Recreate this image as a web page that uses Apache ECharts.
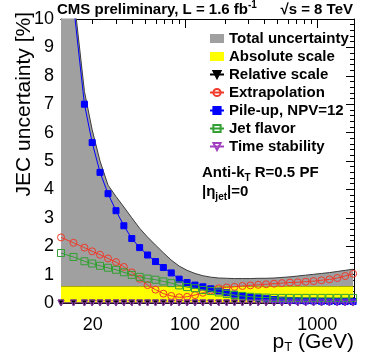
<!DOCTYPE html>
<html>
<head>
<meta charset="utf-8">
<title>JEC uncertainty</title>
<script src="https://cdn.jsdelivr.net/npm/echarts@6/dist/echarts.min.js"></script>
<style>
html, body { margin: 0; padding: 0; background: #fff; }
#chart { width: 374px; height: 359px; }
</style>
</head>
<body>
<div id="chart"></div>
<script>
'use strict';

// pT bin centres, GeV
var pt_bins = [11.5, 14.3, 17.3, 19.8, 22.7, 26.1, 30.0, 34.4, 39.5, 45.3, 52.0, 59.7, 68.5, 78.6, 90.2,
    103.6, 118.9, 136.4, 156.6, 179.7, 206.3, 236.7, 271.7, 311.9, 357.9, 410.8, 471.6, 541.2, 621.3,
    712.9, 818.5, 939.1, 1078, 1237, 1420, 1630, 1871];

// uncertainties in %, one value per bin
var total_unc = [14.5, 10.9, 7.45, 6.1, 5.0, 4.15, 3.75, 3.38, 3.0, 2.63, 2.32, 2.04, 1.77, 1.51, 1.30,
    1.15, 1.04, 0.96, 0.91, 0.88, 0.87, 0.86, 0.86, 0.86, 0.87, 0.87, 0.88, 0.90, 0.92, 0.95, 0.98,
    1.01, 1.04, 1.07, 1.11, 1.15, 1.19];
var absolute_scale = [0.58, 0.58, 0.58, 0.58, 0.58, 0.58, 0.58, 0.58, 0.58, 0.58, 0.58, 0.58, 0.58,
    0.58, 0.58, 0.58, 0.58, 0.58, 0.58, 0.58, 0.58, 0.58, 0.58, 0.58, 0.58, 0.58, 0.58, 0.58, 0.58,
    0.58, 0.58, 0.58, 0.58, 0.58, 0.58, 0.58, 0.58];
var relative_scale = [0, 0, 0, 0, 0, 0, 0, 0, 0, 0, 0, 0, 0, 0, 0, 0, 0, 0, 0, 0, 0, 0, 0, 0, 0, 0,
    0, 0, 0, 0, 0, 0, 0, 0, 0, 0, 0];
var extrapolation = [2.31, 2.12, 1.95, 1.82, 1.70, 1.57, 1.44, 1.27, 1.08, 0.85, 0.63, 0.47, 0.33, 0.25,
    0.20, 0.22, 0.28, 0.36, 0.44, 0.52, 0.55, 0.57, 0.60, 0.62, 0.64, 0.66, 0.68, 0.70, 0.72, 0.73,
    0.75, 0.77, 0.80, 0.83, 0.88, 0.95, 1.03];
var pile_up = [14.0, 10.5, 7.0, 5.65, 4.6, 3.85, 3.25, 2.72, 2.27, 1.95, 1.69, 1.46, 1.25, 1.06, 0.84,
    0.72, 0.63, 0.57, 0.50, 0.42, 0.36, 0.31, 0.26, 0.21, 0.18, 0.15, 0.12, 0.10, 0.09, 0.08, 0.07,
    0.07, 0.06, 0.06, 0.05, 0.05, 0.05];
var jet_flavor = [1.76, 1.62, 1.47, 1.39, 1.31, 1.24, 1.17, 1.08, 0.99, 0.92, 0.86, 0.82, 0.76, 0.70,
    0.62, 0.56, 0.52, 0.46, 0.42, 0.37, 0.32, 0.28, 0.25, 0.22, 0.20, 0.19, 0.18, 0.18, 0.18, 0.18,
    0.18, 0.18, 0.18, 0.18, 0.18, 0.18, 0.18];
var time_stability = [0, 0, 0, 0, 0, 0, 0, 0, 0, 0, 0, 0, 0, 0, 0, 0, 0, 0, 0, 0, 0, 0, 0, 0, 0, 0,
    0, 0, 0, 0, 0, 0, 0, 0, 0, 0, 0];

// axis ticks / labels
var x_labels = [20, 100, 200, 1000];
var x_major_ticks = [100, 1000];
var x_minor_ticks = [20, 30, 40, 50, 60, 70, 80, 90, 200, 300, 400, 500, 600, 700, 800, 900];
var y_labels = [0, 1, 2, 3, 4, 5, 6, 7, 8, 9, 10];

(function (echarts) {

    var FONT = '"Liberation Sans", Arial, Helvetica, sans-serif';
    var X_MIN = 11.5, X_MAX = 1900;
    var CLEAR = 'rgba(0,0,0,0)';

    var Plot = {
        chart: null,

        init: function () {
            this.chart = echarts.init(document.getElementById('chart'), null, {renderer: 'canvas'});
            this.chart.setOption({
                animation: false,
                backgroundColor: '#fff',
                grid: {left: 61, right: 20, top: 19, bottom: 56},
                xAxis: [
                    this.xAxis('bottom', x_major_ticks, 9, true),
                    this.xAxis('bottom', x_minor_ticks, 5, false),
                    this.xAxis('top', x_major_ticks, 9, false),
                    this.xAxis('top', x_minor_ticks, 5, false)
                ],
                yAxis: [this.yAxis('left', true), this.yAxis('right', false)],
                legend: this.legend(),
                series: this.series(),
                graphic: this.texts()
            });
        },

        log: function (v) {
            return Math.log10(v);
        },

        // [log10(pt), value] pairs for the value axis
        pairs: function (values) {
            return pt_bins.map(function (pt, i) {
                return [Math.log10(pt), values[i]];
            });
        },

        xAxis: function (position, ticks, length, show_labels) {
            return {
                type: 'value',
                position: position,
                min: this.log(X_MIN),
                max: this.log(X_MAX),
                axisLine: {show: true, onZero: false, lineStyle: {color: '#000', width: 1}},
                axisTick: {
                    show: true, inside: true, length: length,
                    customValues: ticks.map(this.log),
                    lineStyle: {color: '#000', width: 1}
                },
                axisLabel: show_labels ? {
                    show: true,
                    customValues: x_labels.map(this.log),
                    formatter: function (v) { return String(Math.round(Math.pow(10, v))); },
                    fontFamily: FONT, fontSize: 18, color: '#000', margin: 13
                } : {show: false},
                splitLine: {show: false}
            };
        },

        yAxis: function (position, show_labels) {
            return {
                type: 'value',
                position: position,
                min: 0,
                max: 10,
                interval: 1,
                axisLine: {show: true, lineStyle: {color: '#000', width: 1}},
                axisTick: {show: true, inside: true, length: 8, lineStyle: {color: '#000'}},
                minorTick: {show: true, splitNumber: 5, length: 4, lineStyle: {color: '#000'}},
                axisLabel: show_labels ? {
                    show: true,
                    customValues: y_labels,
                    fontFamily: FONT, fontSize: 18, color: '#000', margin: 7
                } : {show: false},
                splitLine: {show: false},
                minorSplitLine: {show: false}
            };
        },

        legend: function () {
            return {
                orient: 'vertical',
                left: 204,
                top: 26,
                itemWidth: 14,
                itemHeight: 9,
                itemGap: 3,
                textStyle: {fontFamily: FONT, fontSize: 15, fontWeight: 'bold', color: '#000', lineHeight: 15},
                data: [
                    {name: 'Total uncertainty', icon: 'rect', itemStyle: {color: '#a0a0a0'}},
                    {name: 'Absolute scale', icon: 'rect', itemStyle: {color: '#ffff00'}},
                    'Relative scale',
                    'Extrapolation',
                    'Pile-up, NPV=12',
                    'Jet flavor',
                    'Time stability'
                ]
            };
        },

        band: function (name, values, fill, edge, z) {
            return {
                name: name,
                type: 'line',
                data: this.pairs(values),
                symbol: 'none',
                z: z,
                silent: true,
                lineStyle: {color: edge, width: 1},
                itemStyle: {color: fill},
                areaStyle: {color: fill, opacity: 1}
            };
        },

        // open markers keep a see-through inside, like the ROOT ones
        marked: function (name, values, color, symbol, size, rotate, open, z) {
            return {
                name: name,
                type: 'line',
                data: this.pairs(values),
                symbol: symbol,
                symbolSize: size,
                symbolRotate: rotate,
                showAllSymbol: true,
                z: z,
                silent: true,
                lineStyle: {color: color, width: 1},
                itemStyle: {color: open ? CLEAR : color, borderColor: color, borderWidth: 1}
            };
        },

        series: function () {
            return [
                this.band('Total uncertainty', total_unc, '#a0a0a0', '#3c3c3c', 1),
                this.band('Absolute scale', absolute_scale, '#ffff00', '#a8a800', 2),
                this.marked('Relative scale', relative_scale, '#000', 'triangle', 6, 180, false, 3),
                this.marked('Extrapolation', extrapolation, '#f03a2a', 'circle', 7, 0, true, 4),
                this.marked('Pile-up, NPV=12', pile_up, '#0000ff', 'rect', 6, 0, false, 5),
                this.marked('Jet flavor', jet_flavor, '#33a033', 'rect', 7, 0, true, 6),
                this.marked('Time stability', time_stability, '#a040c0', 'triangle', 6, 180, true, 7)
            ];
        },

        text: function (x, y, text, opts) {
            var style = {
                text: text,
                fontFamily: FONT,
                fontSize: opts.size || 15,
                fontWeight: opts.weight || 'bold',
                fill: '#000',
                align: opts.align || 'left',
                textAlign: opts.align || 'left',
                verticalAlign: 'middle',
                textVerticalAlign: 'middle',
                lineHeight: opts.lineHeight || 20,
                rich: opts.rich || {}
            };
            return {type: 'text', x: x, y: y, rotation: opts.rotation || 0, silent: true, style: style};
        },

        texts: function () {
            var sup = {sup: {fontFamily: FONT, fontSize: 10, fontWeight: 'bold', verticalAlign: 'top', lineHeight: 12}};
            var sub = {sub: {fontFamily: FONT, fontSize: 10, fontWeight: 'bold', verticalAlign: 'bottom', lineHeight: 12}};
            var sub_big = {sub: {fontFamily: FONT, fontSize: 13, verticalAlign: 'bottom', lineHeight: 14}};
            return [
                this.text(57, 10, 'CMS preliminary, L = 1.6 fb{sup|-1}', {rich: sup}),
                this.text(353, 10, '\u221As = 8 TeV', {align: 'right'}),
                this.text(202, 173, 'Anti-k{sub|T} R=0.5 PF', {rich: sub}),
                this.text(202, 192, '|\u03b7{sub|jet}|=0', {rich: sub}),
                this.text(24, 12, 'JEC uncertainty [%]', {size: 21, weight: 'normal', align: 'right', rotation: Math.PI / 2}),
                this.text(354, 342, 'p{sub|T} (GeV)', {size: 21, weight: 'normal', align: 'right', lineHeight: 24, rich: sub_big})
            ];
        }
    };

    Plot.init();

})(echarts);
</script>
</body>
</html>
